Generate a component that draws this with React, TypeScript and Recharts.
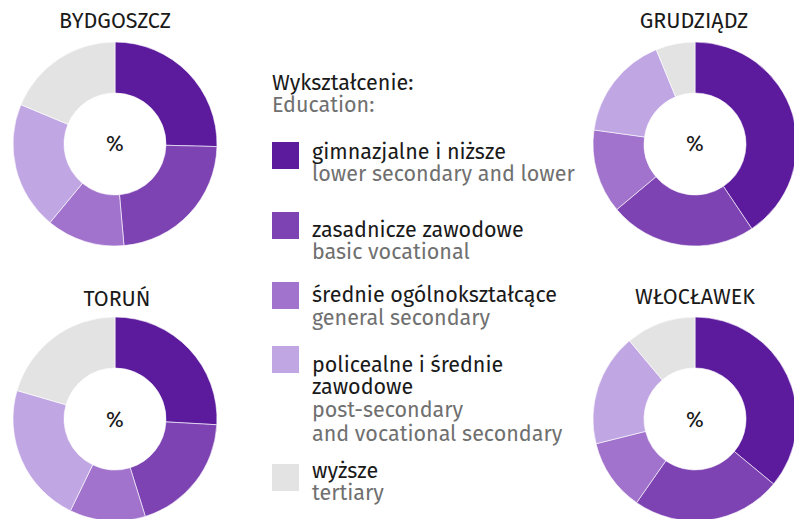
import { PieChart, Pie, Cell } from 'recharts';

const categoriesPl = [
  'gimnazjalne i niższe',
  'zasadnicze zawodowe',
  'średnie ogólnokształcące',
  'policealne i średnie zawodowe',
  'wyższe',
];
const categoriesEn = [
  'lower secondary and lower',
  'basic vocational',
  'general secondary',
  'post-secondary and vocational secondary',
  'tertiary',
];
const colors = ['#5c1b9d', '#7e43b3', '#a173cc', '#c1a6e4', '#e2e3e2'];

const cities = ['BYDGOSZCZ', 'GRUDZIĄDZ', 'TORUŃ', 'WŁOCŁAWEK'];
const bydgoszcz = [25.4, 23.2, 12.4, 20.3, 18.7];
const grudziadz = [40.6, 23.3, 13.3, 16.6, 6.2];
const torun = [25.9, 19.3, 12.0, 22.3, 20.5];
const wloclawek = [36.0, 23.7, 11.4, 17.8, 11.1];

const FONT = '"Fira Sans", "Open Sans", "Noto Sans", sans-serif';
const DARK = '#1a1a1a';
const GREY = '#707070';
const FS = 21.5;

const Donut = ({ values, cx, cy }: { values: number[]; cx: number; cy: number }) => {
  const data = values.map((v, i) => ({ name: categoriesPl[i], value: v }));
  return (
    <div style={{ position: 'absolute', left: cx - 115, top: cy - 115, width: 230, height: 230 }}>
      <PieChart width={230} height={230} margin={{ top: 0, right: 0, bottom: 0, left: 0 }}>
        <Pie
          data={data}
          dataKey="value"
          cx={115}
          cy={115}
          innerRadius={51}
          outerRadius={102}
          startAngle={90}
          endAngle={-270}
          stroke="#ffffff"
          strokeWidth={0.6}
          isAnimationActive={false}
        >
          {data.map((d, i) => (
            <Cell key={`c-${i}`} fill={colors[i]} />
          ))}
        </Pie>
      </PieChart>
    </div>
  );
};

// legend rows: square top, then lines (text, colour, baseline)
const legendRows: { sq: number; lines: [string, string, number][] }[] = [
  { sq: 142, lines: [[categoriesPl[0], DARK, 159], [categoriesEn[0], GREY, 181]] },
  { sq: 212, lines: [[categoriesPl[1], DARK, 237], [categoriesEn[1], GREY, 259]] },
  { sq: 282, lines: [[categoriesPl[2], DARK, 302], [categoriesEn[2], GREY, 325]] },
  {
    sq: 346,
    lines: [
      ['policealne i średnie', DARK, 372],
      ['zawodowe', DARK, 394],
      ['post-secondary', GREY, 417],
      ['and vocational secondary', GREY, 441],
    ],
  },
  { sq: 464, lines: [[categoriesPl[4], DARK, 478], [categoriesEn[4], GREY, 500]] },
];

export default function App() {
  return (
    <div style={{ position: 'absolute', left: 0, top: 0, width: 794, height: 519, overflow: 'hidden', background: '#fff' }}>
      <Donut values={bydgoszcz} cx={115} cy={144} />
      <Donut values={grudziadz} cx={695} cy={144} />
      <Donut values={torun} cx={115} cy={419} />
      <Donut values={wloclawek} cx={695} cy={419} />
      <svg width={794} height={519} style={{ position: 'absolute', left: 0, top: 0, pointerEvents: 'none' }}>
        <g fontFamily={FONT} fill={DARK}>
          <text x={115} y={28} fontSize={FS} textAnchor="middle">{cities[0]}</text>
          <text x={694} y={28} fontSize={FS} textAnchor="middle">{cities[1]}</text>
          <text x={117} y={306} fontSize={FS} textAnchor="middle">{cities[2]}</text>
          <text x={695} y={304} fontSize={FS} textAnchor="middle">{cities[3]}</text>
          <text x={115} y={151} fontSize={FS} textAnchor="middle">%</text>
          <text x={695} y={151} fontSize={FS} textAnchor="middle">%</text>
          <text x={115} y={427} fontSize={FS} textAnchor="middle">%</text>
          <text x={695} y={427} fontSize={FS} textAnchor="middle">%</text>

          <text x={272} y={90} fontSize={FS}>Wykształcenie:</text>
          <text x={272} y={112} fontSize={FS} fill={GREY}>Education:</text>
          {legendRows.map((r, i) => (
            <g key={i}>
              <rect x={272} y={r.sq} width={27} height={27} fill={colors[i]} />
              {r.lines.map(([t, c, y], j) => (
                <text key={j} x={312} y={y} fontSize={FS} fill={c}>{t}</text>
              ))}
            </g>
          ))}
        </g>
      </svg>
    </div>
  );
}
